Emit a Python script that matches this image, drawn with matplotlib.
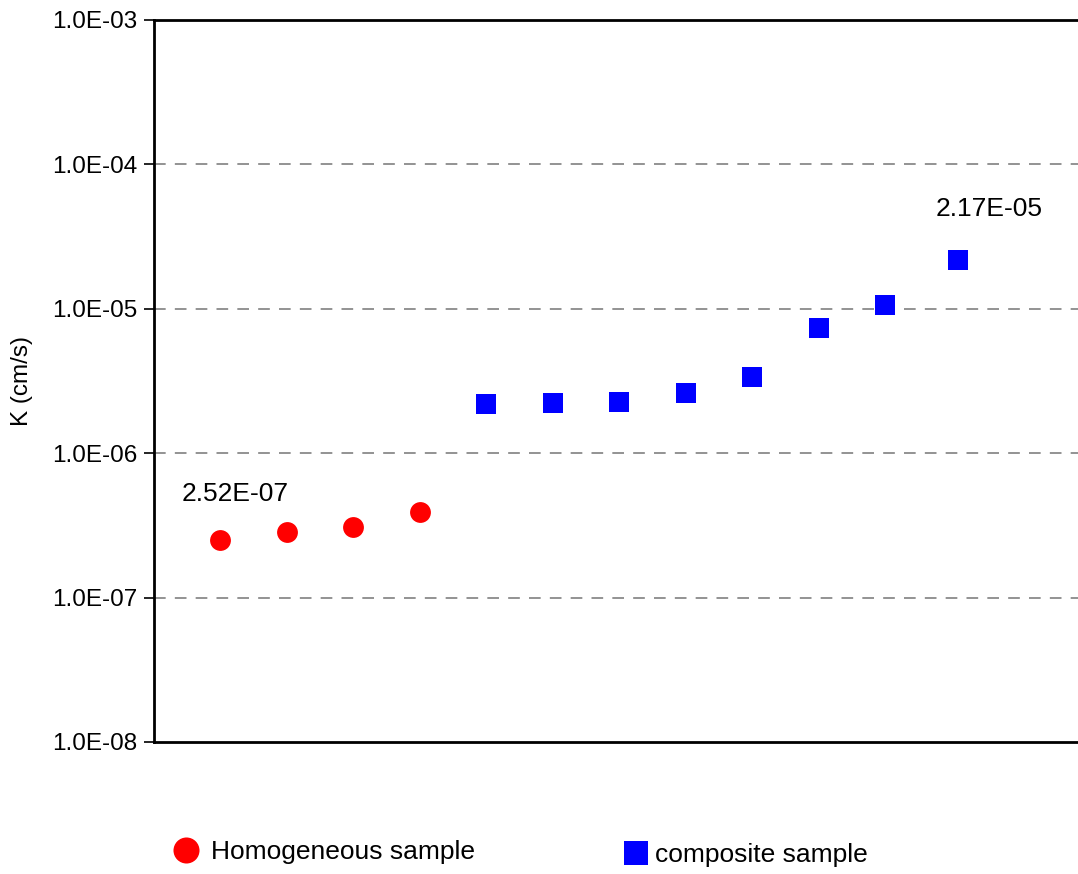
import matplotlib
matplotlib.use("Agg")
import matplotlib.pyplot as plt
from matplotlib.ticker import FixedLocator

plt.rcParams['font.family'] = ['Liberation Sans', 'DejaVu Sans']

# Sample positions along the (unlabelled) horizontal axis
homog_x = [1, 2, 3, 4]
comp_x = [5, 6, 7, 8, 9, 10, 11, 12.1]

# Hydraulic conductivity K (cm/s)
homog_k = [2.52e-7, 2.85e-7, 3.08e-7, 3.93e-7]
comp_k = [2.19e-6, 2.23e-6, 2.26e-6, 2.61e-6, 3.37e-6, 7.36e-6, 1.06e-5, 2.17e-5]

y_ticks = [1e-8, 1e-7, 1e-6, 1e-5, 1e-4, 1e-3]
y_tick_labels = ["1.0E-08", "1.0E-07", "1.0E-06", "1.0E-05", "1.0E-04", "1.0E-03"]

fig = plt.figure(figsize=(10.78, 8.74), dpi=100)
W, H = 1078, 874
left, right, top, bottom = 154, 1078, 20, 742
ax_w_px = right - left + 10.78
ax = fig.add_axes([left / W, 1 - bottom / H, ax_w_px / W, (bottom - top) / H])

ax.set_yscale('log')
ax.set_ylim(1e-8, 1e-3)
ax.set_xlim(0, (right - left) / 66.4 + 0.15)

h1, = ax.plot(homog_x, homog_k, linestyle='none', marker='o', markersize=15,
              color='#ff0000', markeredgewidth=0, label='Homogeneous sample', zorder=3)
h2, = ax.plot(comp_x, comp_k, linestyle='none', marker='s', markersize=13.7,
              color='#0000ff', markeredgewidth=0, label='composite sample', zorder=3)

# Value labels on the first and last samples
ax.annotate("2.52E-07", xy=(homog_x[0], homog_k[0]), xytext=(10.8, 33),
            textcoords='offset points', ha='center', va='center', fontsize=19)
ax.annotate("2.17E-05", xy=(comp_x[-1], comp_k[-1]), xytext=(22.3, 36.7),
            textcoords='offset points', ha='center', va='center', fontsize=19)

ax.yaxis.set_major_locator(FixedLocator(y_ticks))
ax.yaxis.set_minor_locator(FixedLocator([]))
ax.set_yticks(y_ticks)
ax.set_yticklabels(y_tick_labels, fontsize=17.5)
ax.tick_params(axis='y', direction='out', length=7, width=1.2, pad=5, color='black')
ax.set_xticks([])

for yv in y_ticks[1:-1]:
    ax.axhline(yv, color='#808080', linewidth=1.2, dashes=(7, 5.5), zorder=1)

for s in ['left', 'bottom', 'top']:
    ax.spines[s].set_linewidth(2)
    ax.spines[s].set_color('black')
ax.spines['right'].set_visible(False)

ax.set_ylabel("K (cm/s)", fontsize=17.5)
ax.yaxis.set_label_coords(-(left - 33) / ax_w_px, 0.5)

fig.legend(handles=[h1], loc='center left', bbox_to_anchor=(173 / W, 1 - 852 / H),
           frameon=False, fontsize=19, handlelength=1.0, handletextpad=0.45,
           borderpad=0, borderaxespad=0, markerscale=1.25)
fig.legend(handles=[h2], loc='center left', bbox_to_anchor=(623 / W, 1 - 855 / H),
           frameon=False, fontsize=19, handlelength=1.0, handletextpad=0.2,
           borderpad=0, borderaxespad=0, markerscale=1.3)

fig.savefig("out.png", dpi=100)
